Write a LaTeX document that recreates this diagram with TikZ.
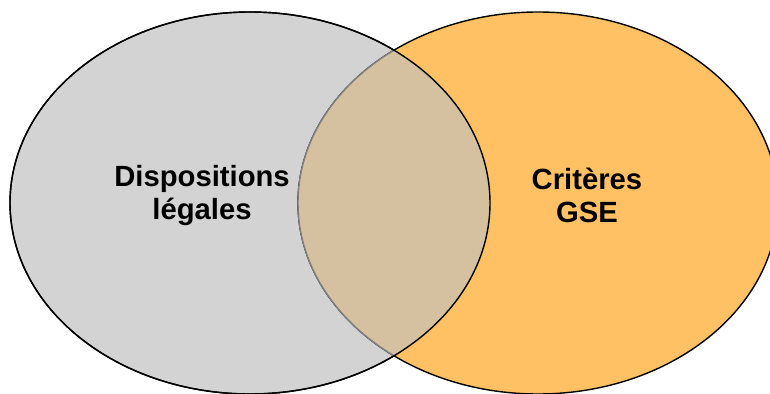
\documentclass[tikz,border=0pt]{standalone}
\usepackage{fontspec}
\setmainfont{Liberation Sans}
\usetikzlibrary{calc}
\definecolor{legalgray}{RGB}{211,211,211}
\definecolor{gseorange}{RGB}{255,193,100}
\definecolor{overlaptan}{RGB}{213,192,160}
\def\leftset{(6.25, -5.075) ellipse (6.0 and 4.775)}
\def\rightset{(13.45, -5.075) ellipse (6.0 and 4.775)}
\tikzset{setlabel/.style={align=center, font=\bfseries\fontsize{20.8}{23.4}\selectfont}}
\begin{document}
\begin{tikzpicture}
			%%%%% START %%%%%
			
			\useasboundingbox (0, 0) rectangle (19.25, -9.85);
			
			\begin{scope}
				\clip (0, 0) rectangle (19.25, -9.85);
				\draw[line width=1pt, fill=legalgray] \leftset;
				\draw[line width=1pt, fill=gseorange] \rightset;
				\begin{scope}
					\clip \leftset;
					\fill[overlaptan] \rightset;
					\draw[line width=1pt, color=black!50] \rightset;
				\end{scope}
				\draw[line width=1pt] \leftset;
			\end{scope}
			
			\node[setlabel] (legal) at (5.05, -4.88) {Dispositions\\légales};
			\node[setlabel] (gse) at (14.675, -4.88) {Critères\\GSE};
			
			%%%%% END %%%%%
		\end{tikzpicture}
\end{document}
